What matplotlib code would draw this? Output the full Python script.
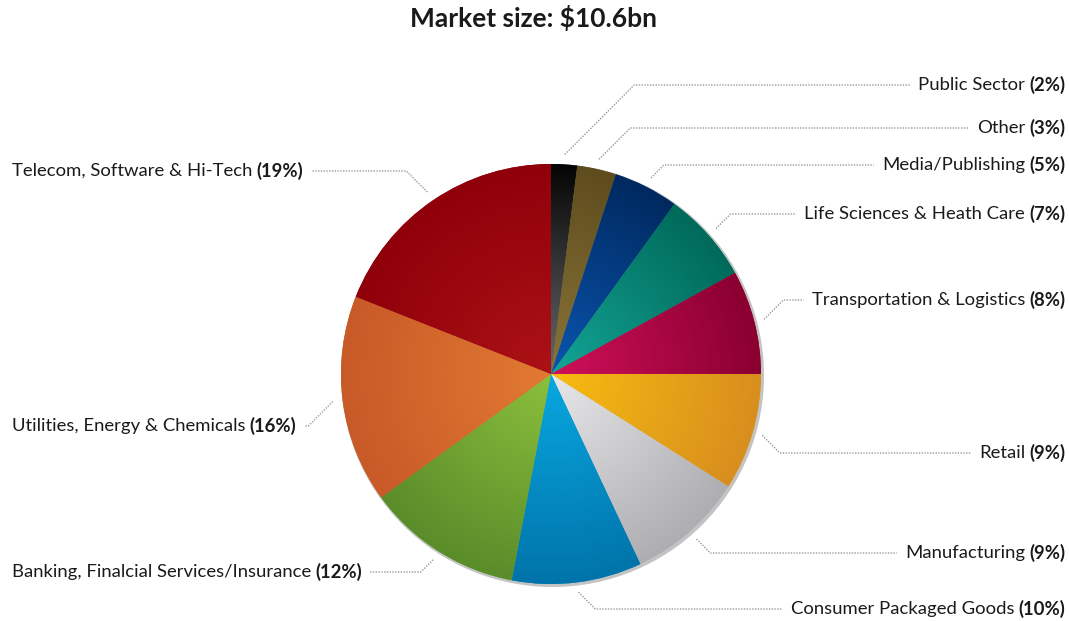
import matplotlib
matplotlib.use('Agg')
import matplotlib.pyplot as plt
import numpy as np
from matplotlib.colors import to_rgb

# market share by sector, clockwise from 12 o'clock
sectors = ['Public Sector', 'Other', 'Media/Publishing', 'Life Sciences & Heath Care',
           'Transportation & Logistics', 'Retail', 'Manufacturing', 'Consumer Packaged Goods',
           'Banking, Finalcial Services/Insurance', 'Utilities, Energy & Chemicals',
           'Telecom, Software & Hi-Tech']
shares = [2, 3, 5, 7, 8, 9, 9, 10, 12, 16, 19]

# gradient colours: centre -> rim
inner_colors = ['#6a6a6a', '#8a7438', '#0a55b0', '#13a596', '#d0105a', '#f8bc10',
                '#e8e8ea', '#08a8e0', '#8cc03c', '#e27a32', '#ac1216']
outer_colors = ['#050505', '#5e4c1e', '#00295f', '#006a5a', '#8a0030', '#d88e1e',
                '#aeaeb2', '#0074aa', '#5a8c2a', '#c85a28', '#90000a']

label_side = ['right'] * 8 + ['left'] * 3
label_y = [85, 128, 165, 214, 300, 453, 553, 609, 572, 426, 171]  # px from top

W, H = 1069, 621
CX, CY, R = 551, H - 374, 210
TXT = '#1a1a1a'
FS = 13.3

plt.rcParams['font.family'] = ['Lato', 'DejaVu Sans']
fig = plt.figure(figsize=(W / 100, H / 100), dpi=100)
ax = fig.add_axes([0, 0, 1, 1])

# faint rim shadow
ax.add_patch(plt.Circle((CX + 1.5, CY - 1.5), R + 1.5, color='#7a7a7a', alpha=0.45, lw=0, zorder=0.5))

wedges, _ = ax.pie(shares, startangle=90, counterclock=False, center=(CX, CY), radius=R,
                   wedgeprops=dict(lw=0))

xs = np.arange(CX - R, CX + R + 1)
ys = np.arange(CY - R, CY + R + 1)
gx, gy = np.meshgrid(xs, ys)
t = np.clip(np.hypot(gx - CX, gy - CY) / R, 0, 1)
for w, ci, co in zip(wedges, inner_colors, outer_colors):
    a, b = np.array(to_rgb(ci)), np.array(to_rgb(co))
    w.set_facecolor((a + b) / 2)
    w.set_zorder(1)
    img = a + (b - a) * t[..., None]
    im = ax.imshow(img, extent=(CX - R, CX + R, CY - R, CY + R), origin='lower',
                   interpolation='bilinear', zorder=2)
    im.set_clip_path(w)

ax.set_xlim(0, W)
ax.set_ylim(0, H)
ax.set_aspect('auto')
ax.axis('off')

ax.text(534, H - 18, 'Market size: \\$10.6bn', ha='center', va='center',
        fontsize=19, fontweight='bold', color=TXT)

fig.canvas.draw()
renderer = fig.canvas.get_renderer()

cum = 0
for name, s, side, y in zip(sectors, shares, label_side, label_y):
    mid = np.radians(90 - 360 * (cum + s / 2) / 100)
    cum += s
    px, py = CX + (R + 10) * np.cos(mid), CY + (R + 10) * np.sin(mid)
    ly = H - y
    dy = abs(ly - py)
    if side == 'right':
        pct = ax.text(1065, ly, f'({s}%)', ha='right', va='center', fontsize=FS,
                      fontweight='bold', color=TXT)
        pw = pct.get_window_extent(renderer).width
        lab = ax.text(1065 - pw - 4, ly, name, ha='right', va='center', fontsize=FS, color=TXT)
        edge = 1065 - pw - 4 - lab.get_window_extent(renderer).width - 8
        ex = px + dy
    else:
        lab = ax.text(12, ly, name, ha='left', va='center', fontsize=FS, color=TXT)
        nw = lab.get_window_extent(renderer).width
        pct = ax.text(12 + nw + 4, ly, f'({s}%)', ha='left', va='center', fontsize=FS,
                      fontweight='bold', color=TXT)
        edge = 12 + nw + 4 + pct.get_window_extent(renderer).width + 8
        ex = px - dy
    ax.plot([px, ex, edge], [py, ly, ly], color='#9a9a9a', lw=1,
            linestyle=(0, (1, 1)), zorder=3)

fig.savefig('out.png', dpi=100)
